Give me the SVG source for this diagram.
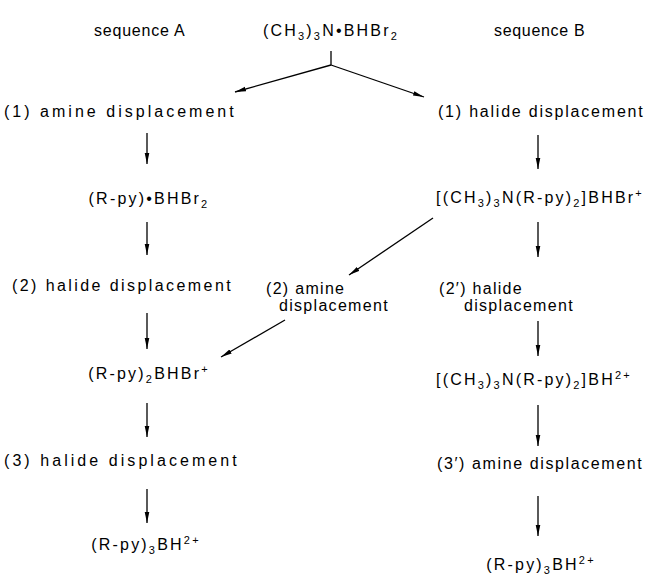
<svg xmlns="http://www.w3.org/2000/svg" width="645" height="576" viewBox="0 0 645 576">
<defs>
<marker id="ah" markerWidth="12" markerHeight="6" refX="11" refY="3" orient="auto" markerUnits="userSpaceOnUse">
<path d="M0,0.7 L11,3 L0,5.3 Z" fill="#000"/>
</marker>
</defs>
<style>
text{font-family:"Liberation Sans","DejaVu Sans",sans-serif;font-size:16px;fill:#000;letter-spacing:1.3px;}
.f{letter-spacing:2.2px;}
.m{text-anchor:middle;}
.s{font-size:11px;}
.c{stroke:#000;stroke-width:1.3;fill:none;marker-end:url(#ah);}
.p{stroke:#000;stroke-width:1.3;fill:none;}
</style>
<rect width="645" height="576" fill="#fff"/>
<g id="hdrA"><text x="94" y="36" textLength="92" lengthAdjust="spacing">sequence A</text></g>
<g id="start"><text class="m f" x="331" y="36">(CH<tspan class="s" dy="4">3</tspan><tspan dy="-4">)</tspan><tspan class="s" dy="4">3</tspan><tspan dy="-4">N•BHBr</tspan><tspan class="s" dy="4">2</tspan></text></g>
<g id="hdrB"><text x="494" y="36" textLength="92" lengthAdjust="spacing">sequence B</text></g>

<g id="a1"><text x="4" y="117" textLength="231" lengthAdjust="spacing">(1)  amine displacement</text></g>
<g id="b1"><text x="438" y="117" textLength="206" lengthAdjust="spacing">(1) halide displacement</text></g>
<g id="a2"><text class="m f" x="149" y="204">(R-py)•BHBr<tspan class="s" dy="4">2</tspan></text></g>
<g id="b2"><text class="f" x="436" y="203">[(CH<tspan class="s" dy="4">3</tspan><tspan dy="-4">)</tspan><tspan class="s" dy="4">3</tspan><tspan dy="-4">N(R-py)</tspan><tspan class="s" dy="4">2</tspan><tspan dy="-4">]BHBr</tspan><tspan class="s" dy="-6">+</tspan></text></g>
<g id="a3"><text x="12" y="291" textLength="220" lengthAdjust="spacing">(2)  halide displacement</text></g>
<g id="m2"><text x="266" y="294">(2) amine</text><text x="279" y="311">displacement</text></g>
<g id="b3"><text x="439" y="294">(2′) halide</text><text x="464" y="311">displacement</text></g>
<g id="a4"><text class="m f" x="149" y="379">(R-py)<tspan class="s" dy="4">2</tspan><tspan dy="-4">BHBr</tspan><tspan class="s" dy="-6">+</tspan></text></g>
<g id="b4"><text class="f" x="436" y="385">[(CH<tspan class="s" dy="4">3</tspan><tspan dy="-4">)</tspan><tspan class="s" dy="4">3</tspan><tspan dy="-4">N(R-py)</tspan><tspan class="s" dy="4">2</tspan><tspan dy="-4">]BH</tspan><tspan class="s" dy="-6">2+</tspan></text></g>
<g id="a5"><text x="4" y="466" textLength="234" lengthAdjust="spacing">(3)  halide displacement</text></g>
<g id="b5"><text x="437" y="469" textLength="206" lengthAdjust="spacing">(3′) amine  displacement</text></g>
<g id="a6"><text class="m f" x="146" y="550">(R-py)<tspan class="s" dy="4">3</tspan><tspan dy="-4">BH</tspan><tspan class="s" dy="-6">2+</tspan></text></g>
<g id="b6"><text class="m f" x="541" y="570">(R-py)<tspan class="s" dy="4">3</tspan><tspan dy="-4">BH</tspan><tspan class="s" dy="-6">2+</tspan></text></g>

<g id="connectors">
<line class="p" x1="331" y1="51" x2="331" y2="65"/>
<line class="c" x1="331" y1="65" x2="235" y2="92"/>
<line class="c" x1="331" y1="65" x2="424" y2="97"/>
<line class="c" x1="147" y1="133" x2="147" y2="164"/>
<line class="c" x1="147" y1="222" x2="147" y2="255"/>
<line class="c" x1="147" y1="313" x2="147" y2="349"/>
<line class="c" x1="147" y1="403" x2="147" y2="437"/>
<line class="c" x1="147" y1="489" x2="147" y2="523"/>
<line class="c" x1="538" y1="135" x2="538" y2="169"/>
<line class="c" x1="538" y1="222" x2="538" y2="257"/>
<line class="c" x1="538" y1="321" x2="538" y2="356"/>
<line class="c" x1="538" y1="405" x2="538" y2="446"/>
<line class="c" x1="538" y1="496" x2="538" y2="536"/>
<line class="c" x1="433" y1="218" x2="349" y2="275"/>
<line class="c" x1="285" y1="320" x2="221" y2="357"/>
</g>
</svg>
